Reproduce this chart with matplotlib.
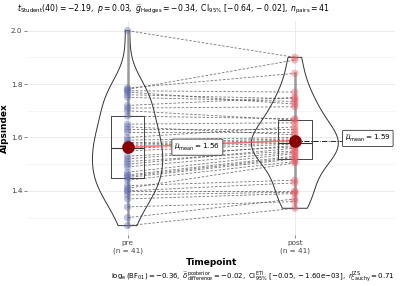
import matplotlib.pyplot as plt
import numpy as np

# paired observations (same subject at the same index)
pre = [2.00, 1.785, 1.78, 1.775, 1.77, 1.76, 1.75, 1.72, 1.71, 1.70,
       1.68, 1.65, 1.64, 1.63, 1.62, 1.60, 1.59, 1.58, 1.575, 1.57,
       1.56,
       1.55, 1.53, 1.52, 1.51, 1.50, 1.49, 1.47, 1.46, 1.455, 1.45,
       1.44, 1.42, 1.41, 1.40, 1.40, 1.385, 1.37, 1.34, 1.30, 1.27]
post = [1.90, 1.84, 1.89, 1.77, 1.725, 1.745, 1.735, 1.75, 1.715, 1.665,
        1.67, 1.655, 1.61, 1.63, 1.62, 1.64, 1.60, 1.595, 1.59, 1.585,
        1.58,
        1.575, 1.565, 1.57, 1.55, 1.56, 1.545, 1.54, 1.53, 1.525, 1.52,
        1.51, 1.44, 1.505, 1.43, 1.40, 1.395, 1.39, 1.36, 1.37, 1.335]
groups = ['pre', 'post']
tick_labels = ['pre\n(n = 41)', 'post\n(n = 41)']
colors = ['#5C6BB0', '#EE5560']

pre = np.array(pre)
post = np.array(post)
data = [pre, post]
means = [d.mean() for d in data]

fig = plt.figure(figsize=(4, 2.86), dpi=100)
ax = fig.add_axes([0.068, 0.177, 0.92, 0.75])

# grid like ggplot theme
ax.set_ylim(1.2335, 2.0365)
ax.set_xlim(0.4, 2.6)
ax.set_yticks([1.4, 1.6, 1.8, 2.0])
ax.set_yticks([1.3, 1.5, 1.7, 1.9], minor=True)
ax.set_xticks([1, 2])
ax.set_xticklabels(tick_labels)
ax.grid(True, which='major', color='#E8E8E8', lw=0.6)
ax.grid(True, which='minor', axis='y', color='#F2F2F2', lw=0.5)
ax.set_axisbelow(True)
for s in ax.spines.values():
    s.set_visible(False)
ax.tick_params(axis='both', which='major', labelsize=5.2, colors='#555555',
               length=2, width=0.5, pad=1.5)
ax.tick_params(axis='y', which='minor', length=0)
for lab in ax.get_xticklabels() + ax.get_yticklabels():
    lab.set_color('#444444')

# violins
vp = ax.violinplot(data, positions=[1, 2], widths=[0.42, 0.52],
                   showextrema=False, bw_method='silverman')
for body in vp['bodies']:
    body.set_facecolor('none')
    body.set_edgecolor('#333333')
    body.set_linewidth(0.7)
    body.set_alpha(1)

# boxes
ax.boxplot(data, positions=[1, 2], widths=0.2, showfliers=False,
           whis=1.5, manage_ticks=False,
           boxprops=dict(color='#444444', lw=0.7),
           medianprops=dict(color='#333333', lw=0.8),
           whiskerprops=dict(color='#9A9A9A', lw=1.8),
           capprops=dict(lw=0))

# paired lines
for a, b in zip(pre, post):
    ax.plot([1, 2], [a, b], ls=(0, (3, 2)), color='#444444', lw=0.6,
            alpha=0.75, zorder=2)

# points
for i, d in enumerate(data):
    ax.scatter(np.full(len(d), i + 1), d, s=28, color=colors[i],
               alpha=0.4, edgecolor='none', zorder=3)

# path between means
ax.plot([1, 2], means, color='#FF5555', lw=1.1, alpha=0.8, zorder=4)

# label connector
ax.plot([2, 2.3], [means[1], means[1]], color='black', lw=0.6,
        ls='-.', zorder=4)

for i, m in enumerate(means):
    ax.scatter([i + 1], [m], s=65, color='#8B0000', zorder=5)

bbox = dict(boxstyle='round,pad=0.35,rounding_size=0.15', fc='white',
            ec='#333333', lw=0.6)
ax.text(1.28, means[0], r'$\widehat{\mu}_{\mathrm{mean}}=%.2f$' % means[0],
        fontsize=5.2, va='center', ha='left', bbox=bbox, zorder=6)
ax.text(2.3, means[1] + 0.008, r'$\widehat{\mu}_{\mathrm{mean}}=%.2f$' % means[1],
        fontsize=5.2, va='center', ha='left', bbox=bbox, zorder=6)

ax.set_xlabel('Timepoint', fontsize=6.5, fontweight='bold', labelpad=3)
ax.set_ylabel('Alpsindex', fontsize=6.5, fontweight='bold', labelpad=1)

fig.text(0.043, 0.968,
         r'$t_{\mathrm{Student}}(40) = -2.19,\ p = 0.03,\ \widehat{g}_{\mathrm{Hedges}} = -0.34,'
         r'\ \mathrm{CI}_{95\%}\ [-0.64, -0.02],\ n_{\mathrm{pairs}} = 41$',
         fontsize=5.6, ha='left', va='center')
fig.text(0.985, 0.032,
         r'$\log_{\mathrm{e}}(\mathrm{BF}_{01}) = -0.36,\ \widehat{\delta}_{\mathrm{difference}}^{\mathrm{posterior}} = -0.02,'
         r'\ \mathrm{CI}_{95\%}^{\mathrm{ETI}}\ [-0.05, -1.60\mathrm{e}{-03}],\ r_{\mathrm{Cauchy}}^{\mathrm{JZS}} = 0.71$',
         fontsize=5.0, ha='right', va='center')

fig.savefig('out.png', dpi=100)
